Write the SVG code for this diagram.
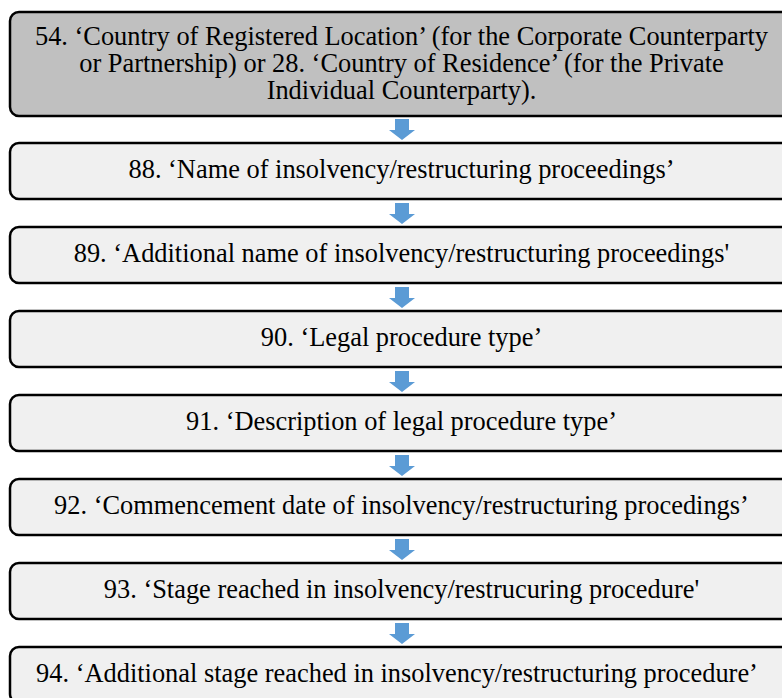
<svg xmlns="http://www.w3.org/2000/svg" width="782" height="698" viewBox="0 0 782 698">
<defs>
<style>
.box{fill:#f0f0f0;stroke:#000;stroke-width:2.5}
.box1{fill:#c0c0c0;stroke:#000;stroke-width:2.5}
.t{font-family:"Liberation Serif","Times New Roman",serif;font-size:26.4px;fill:#000;text-anchor:middle}
.arr{fill:#5b9bd5}
</style>
<path id="dn" d="M-7,0 H7 V11 H13 L0,21 L-13,11 H-7 Z"/>
</defs>
<rect width="782" height="698" fill="#fff"/>
<g id="connectors" class="arr">
<use href="#dn" x="402" y="119"/>
<use href="#dn" x="402" y="203"/>
<use href="#dn" x="402" y="287"/>
<use href="#dn" x="402" y="371"/>
<use href="#dn" x="402" y="455"/>
<use href="#dn" x="402" y="539"/>
<use href="#dn" x="402" y="623"/>
</g>
<g id="n54">
<rect class="box1" x="10" y="12" width="783" height="104" rx="9"/>
<text class="t" x="401.5" y="45">54. ‘Country of Registered Location’ (for the Corporate Counterparty</text>
<text class="t" x="401.5" y="72">or Partnership) or 28. ‘Country of Residence’ (for the Private</text>
<text class="t" x="401.5" y="99">Individual Counterparty).</text>
</g>
<g id="n88">
<rect class="box" x="10" y="143" width="783" height="56" rx="9"/>
<text class="t" x="401.5" y="178">88. ‘Name of insolvency/restructuring proceedings’</text>
</g>
<g id="n89">
<rect class="box" x="10" y="227" width="783" height="56" rx="9"/>
<text class="t" x="401.5" y="262">89. ‘Additional name of insolvency/restructuring proceedings'</text>
</g>
<g id="n90">
<rect class="box" x="10" y="311" width="783" height="56" rx="9"/>
<text class="t" x="401.5" y="346">90. ‘Legal procedure type’</text>
</g>
<g id="n91">
<rect class="box" x="10" y="395" width="783" height="56" rx="9"/>
<text class="t" x="401.5" y="430">91. ‘Description of legal procedure type’</text>
</g>
<g id="n92">
<rect class="box" x="10" y="479" width="783" height="56" rx="9"/>
<text class="t" x="401.5" y="514">92. ‘Commencement date of insolvency/restructuring procedings’</text>
</g>
<g id="n93">
<rect class="box" x="10" y="563" width="783" height="56" rx="9"/>
<text class="t" x="401.5" y="598">93. ‘Stage reached in insolvency/restrucuring procedure'</text>
</g>
<g id="n94">
<rect class="box" x="10" y="647" width="783" height="56" rx="9"/>
<text class="t" x="397" y="682">94. ‘Additional stage reached in insolvency/restructuring procedure’</text>
</g>
</svg>
